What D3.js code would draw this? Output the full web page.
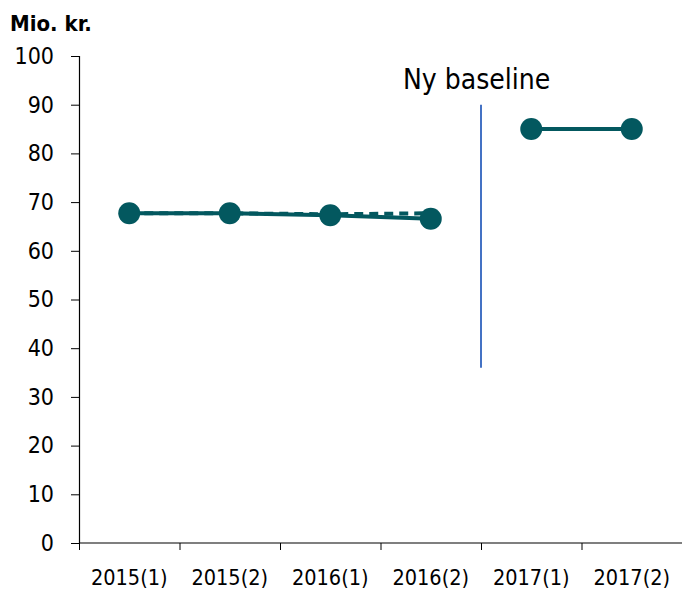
<!DOCTYPE html>
<html>
<head>
<meta charset="utf-8">
<script src="https://cdn.jsdelivr.net/npm/d3@7"></script>
<style>
  body { margin: 0; background: #fff; }
  svg text { font-family: "DejaVu Sans Condensed", "DejaVu Sans", sans-serif; fill: #000; }
</style>
</head>
<body>
<div class="chart"></div>
<script>
// categories and values
var periods = ["2015(1)", "2015(2)", "2016(1)", "2016(2)", "2017(1)", "2017(2)"];
var solidOld = [67.7, 67.7, 67.3, 66.6];      // before new baseline
var dashedOld = [67.7, 67.7, 67.5, 67.7];     // dashed line, no markers
var solidNew = [85, 85];                      // after new baseline
var yTicks = [0, 10, 20, 30, 40, 50, 60, 70, 80, 90, 100];
var baselineSpan = [36, 90];

var width = 682, height = 589;
var margin = {top: 56, right: 0, bottom: 46, left: 79};
var w = width - margin.left - margin.right;
var h = height - margin.top - margin.bottom;
var teal = "#03585f";

var svg = d3.select(".chart").append("svg")
  .attr("width", width)
  .attr("height", height);

var g = svg.append("g")
  .attr("transform", "translate(" + margin.left + "," + margin.top + ")");

var x = d3.scaleBand().domain(periods).range([0, w]);
var y = d3.scaleLinear().domain([0, 100]).range([h, 0]);

//y axis
var yAxis = g.append("g")
  .call(d3.axisLeft(y).tickValues(yTicks).tickSize(8).tickPadding(17));
yAxis.select(".domain").attr("stroke", "#000").attr("stroke-width", 1.2).attr("d", "M-8,0.5H0.5V" + h);
yAxis.selectAll("line").attr("stroke", "#000");
yAxis.selectAll("text").attr("font-size", 23);

//x axis, ticks on category boundaries
var xAxis = g.append("g").attr("transform", "translate(0," + h + ")");
xAxis.append("line").attr("x1", 0).attr("x2", w).attr("stroke", "#000").attr("stroke-width", 1.2);
xAxis.selectAll(".tick")
  .data(periods.concat([null]))
  .enter().append("line")
  .attr("x1", function(d, i) { return i * x.step() + 0.5; })
  .attr("x2", function(d, i) { return i * x.step() + 0.5; })
  .attr("y1", 0).attr("y2", 7)
  .attr("stroke", "#000");
xAxis.selectAll(".lbl")
  .data(periods)
  .enter().append("text")
  .attr("x", function(d) { return x(d) + x.bandwidth() / 2; })
  .attr("y", 42)
  .attr("text-anchor", "middle")
  .attr("font-size", 21.5)
  .text(function(d) { return d; });

//unit label
svg.append("text")
  .attr("x", 10).attr("y", 31)
  .attr("font-size", 22)
  .attr("font-weight", "bold")
  .text("Mio. kr.");

var cx = function(i) { return x(periods[i]) + x.bandwidth() / 2; };
var line = d3.line().x(function(d) { return cx(d.i); }).y(function(d) { return y(d.v); });

var oldPts = solidOld.map(function(v, i) { return {i: i, v: v}; });
var dashPts = dashedOld.map(function(v, i) { return {i: i, v: v}; });
var newPts = solidNew.map(function(v, i) { return {i: i + 4, v: v}; });

g.append("path").datum(dashPts)
  .attr("d", line).attr("fill", "none")
  .attr("stroke", teal).attr("stroke-width", 4)
  .attr("stroke-dasharray", "9,6");

[oldPts, newPts].forEach(function(pts) {
  g.append("path").datum(pts)
    .attr("d", line).attr("fill", "none")
    .attr("stroke", teal).attr("stroke-width", 4);
  g.selectAll(null).data(pts).enter().append("circle")
    .attr("cx", function(d) { return cx(d.i); })
    .attr("cy", function(d) { return y(d.v); })
    .attr("r", 11)
    .attr("fill", teal);
});

//new baseline marker
var bx = x(periods[4]);
g.append("line")
  .attr("x1", bx).attr("x2", bx)
  .attr("y1", y(baselineSpan[0])).attr("y2", y(baselineSpan[1]))
  .attr("stroke", "#4472c4").attr("stroke-width", 2);
g.append("text")
  .attr("x", bx - 78).attr("y", 33)
  .attr("font-size", 28)
  .text("Ny baseline");
</script>
</body>
</html>
